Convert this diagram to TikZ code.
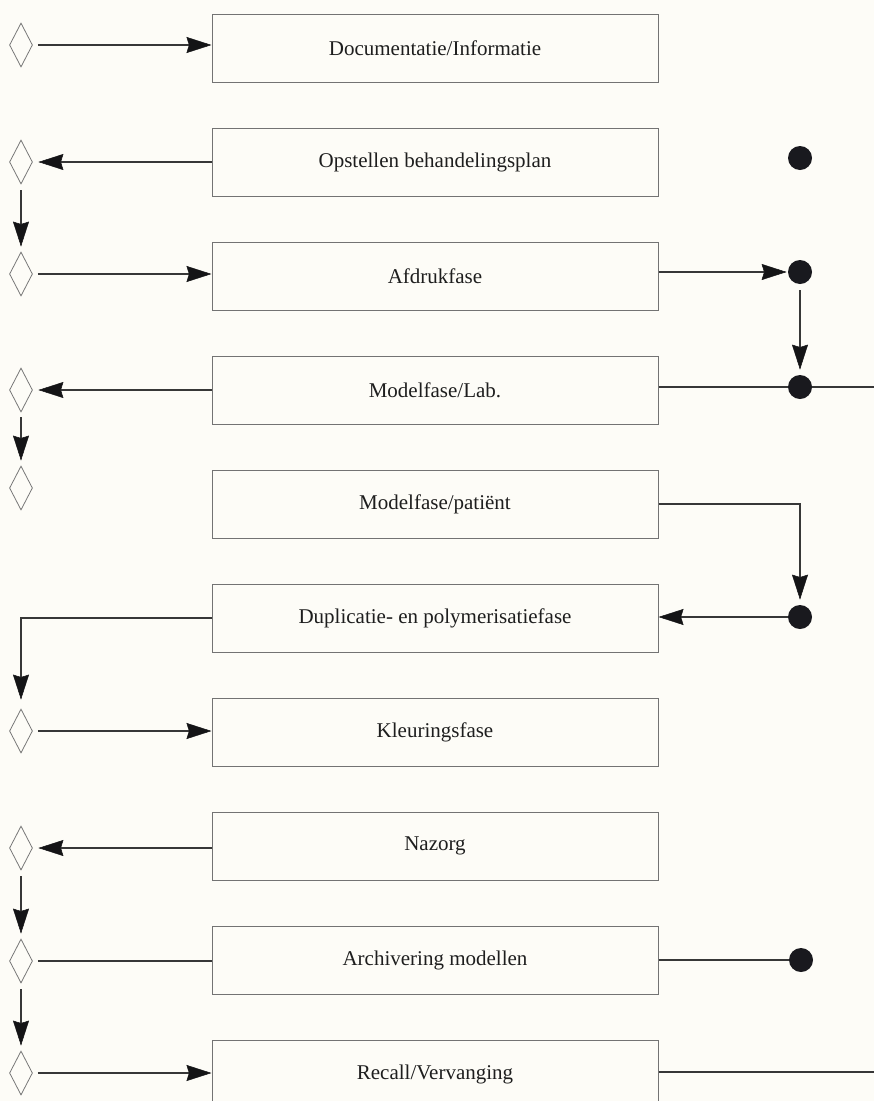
\documentclass[tikz,border=0pt]{standalone}
\usepackage{fontspec}
\setmainfont{Liberation Serif}
\usetikzlibrary{shapes.geometric,arrows.meta}

\tikzset{every picture/.style={line width=0.75pt}}
\tikzset{
  fase/.style={draw={rgb, 255:red, 115; green, 115; blue, 115 }, line width=1pt, minimum width=446pt, minimum height=68pt, inner sep=0pt, text={rgb, 255:red, 30; green, 30; blue, 30 }, font=\fontsize{21}{25}\selectfont},
  keuze/.style={draw={rgb, 255:red, 120; green, 120; blue, 120 }, shape=diamond, line width=0.8pt, minimum width=23pt, minimum height=44pt, inner sep=0pt},
  punt/.style={circle, fill={rgb, 255:red, 25; green, 25; blue, 30 }, minimum size=24pt, inner sep=0pt},
  lijn/.style={draw={rgb, 255:red, 55; green, 55; blue, 55 }, line width=1.3pt},
  pijl/.style={lijn, -{Stealth[length=25pt,width=16pt,inset=2.5pt,line width=0.5pt,color={rgb, 255:red, 20; green, 20; blue, 22 }]}},
}

\begin{document}
\begin{tikzpicture}[x=1pt,y=1pt,yscale=-1,xscale=1]
%background and size of the page
\fill [fill={rgb, 255:red, 253; green, 252; blue, 247 }] (0,0) rectangle (874,1101);
\useasboundingbox (0,0) rectangle (874,1101);

%Shape: Rectangle
\node [fase] (b1) at (435,48) {Documentatie/Informatie};
\node [fase] (b2) at (435,162) {Opstellen behandelingsplan};
\node [fase] (b3) at (435,276) {Afdrukfase};
\node [fase] (b4) at (435,390) {Modelfase/Lab.};
\node [fase] (b5) at (435,504) {Modelfase/patiënt};
\node [fase] (b6) at (435,618) {Duplicatie- en polymerisatiefase};
\node [fase] (b7) at (435,732) {Kleuringsfase};
\node [fase] (b8) at (435,846) {Nazorg};
\node [fase] (b9) at (435,960) {Archivering modellen};
\node [fase] (b10) at (435,1074) {Recall/Vervanging};

%Shape: Diamond
\node [keuze] (k1) at (21,45) {};
\node [keuze] (k2) at (21,162) {};
\node [keuze] (k3) at (21,274) {};
\node [keuze] (k4) at (21,390) {};
\node [keuze] (k5) at (21,488) {};
\node [keuze] (k7) at (21,731) {};
\node [keuze] (k8) at (21,848) {};
\node [keuze] (k9) at (21,961) {};
\node [keuze] (k10) at (21,1073) {};

%Shape: Circle
\coordinate (rand4) at (874,387);
\coordinate (rand10) at (874,1072);
\draw [lijn] (b4.east |- rand4) -- (rand4);
\draw [lijn] (b10.east |- rand10) -- (rand10);
\node [punt] (p2) at (800,158) {};
\node [punt] (p3) at (800,272) {};
\node [punt] (p4) at (800,387) {};
\node [punt] (p6) at (800,617) {};
\node [punt] (p9) at (801,960) {};

%left side
\draw [pijl, shorten <=5pt] (k1.east) -- (k1.east -| b1.west);
\draw [pijl, shorten >=5.5pt] (k2.east -| b2.west) -- (k2.east);
\draw [pijl, shorten <=6pt, shorten >=5pt] (k2.south) -- (k3.north);
\draw [pijl, shorten <=5pt] (k3.east) -- (k3.east -| b3.west);
\draw [pijl, shorten >=5.5pt] (k4.east -| b4.west) -- (k4.east);
\draw [pijl, shorten <=5pt, shorten >=5pt] (k4.south) -- (k5.north);
\draw [pijl, shorten >=9pt] (b6.west) -| (k7.north);
\draw [pijl, shorten <=5pt] (k7.east) -- (k7.east -| b7.west);
\draw [pijl, shorten >=5.5pt] (k8.east -| b8.west) -- (k8.east);
\draw [pijl, shorten <=6pt, shorten >=5pt] (k8.south) -- (k9.north);
\draw [lijn, shorten <=5pt] (k9.east) -- (k9.east -| b9.west);
\draw [pijl, shorten <=6pt, shorten >=5pt] (k9.south) -- (k10.north);
\draw [pijl, shorten <=5pt] (k10.east) -- (k10.east -| b10.west);

%right side
\draw [pijl, shorten >=1pt] (p3 -| b3.east) -- (p3.west);
\draw [pijl, shorten <=6pt, shorten >=5pt] (p3.south) -- (p4.north);
\draw [pijl, shorten >=5pt] (b5.east) -| (p6.north);
\draw [pijl] (p6.west) -- (p6 -| b6.east);
\draw [lijn] (b9.east) -- (p9.west);

\end{tikzpicture}
\end{document}
